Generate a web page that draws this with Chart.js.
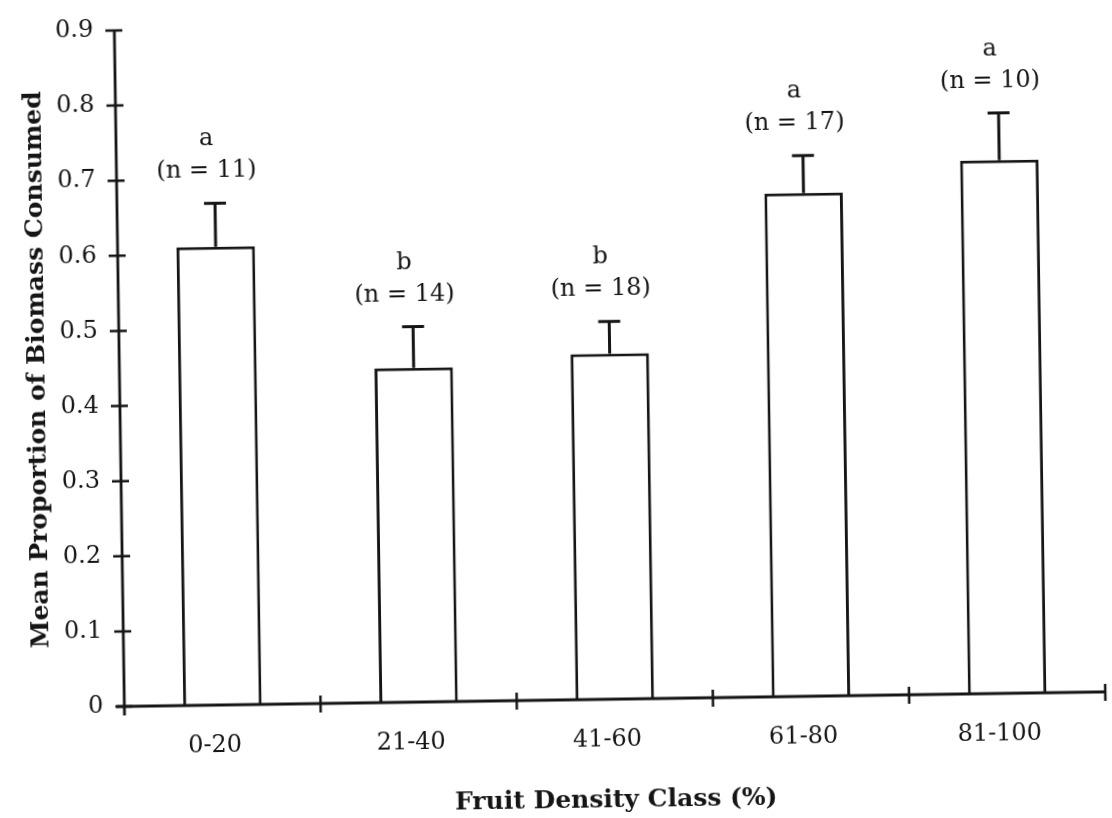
<!DOCTYPE html>
<html>
<head>
<meta charset="utf-8">
<script src="https://cdn.jsdelivr.net/npm/chart.js@4/dist/chart.umd.min.js"></script>
<style>
  html, body { margin: 0; padding: 0; background: #ffffff; overflow: hidden; }
  #wrap { width: 1112px; height: 818px; transform: rotate(-0.85deg); transform-origin: 556px 409px; }
  canvas { display: block; }
</style>
</head>
<body>
<div id="wrap"><canvas id="chart" width="1112" height="818"></canvas></div>
<script>
// Fruit density classes and mean proportion of biomass consumed
const categories = ['0-20', '21-40', '41-60', '61-80', '81-100'];
const meanConsumed = [0.61, 0.445, 0.46, 0.67, 0.71];
const upperError = [0.668, 0.50, 0.503, 0.72, 0.773];
const groupLetters = ['a', 'b', 'b', 'a', 'a'];
const sampleSizes = [11, 14, 18, 17, 10];
const yTicks = [0, 0.1, 0.2, 0.3, 0.4, 0.5, 0.6, 0.7, 0.8, 0.9];
const yTickLabels = ['0', '0.1', '0.2', '0.3', '0.4', '0.5', '0.6', '0.7', '0.8', '0.9'];

const INK = '#151515';
const SERIF = "'DejaVu Serif', 'Liberation Serif', serif";

// Axis lines with tick marks that cross the line on both sides
const axisFrame = {
  id: 'axisFrame',
  afterDatasetsDraw(chart) {
    const { ctx, chartArea: a, scales: { x, y } } = chart;
    ctx.save();
    ctx.strokeStyle = INK;
    ctx.lineWidth = 2.8;
    ctx.lineCap = 'butt';
    ctx.beginPath();
    ctx.moveTo(a.left, a.top);
    ctx.lineTo(a.left, a.bottom + 9);
    ctx.moveTo(a.left - 8, a.bottom);
    ctx.lineTo(a.right, a.bottom);
    ctx.stroke();
    ctx.lineWidth = 2.5;
    ctx.beginPath();
    yTicks.forEach(v => {
      const py = y.getPixelForValue(v);
      ctx.moveTo(a.left - 9, py);
      ctx.lineTo(a.left + 8, py);
    });
    for (let i = 1; i <= categories.length; i++) {
      const px = x.getPixelForValue(i - 0.5);
      ctx.moveTo(px, a.bottom - 8);
      ctx.lineTo(px, a.bottom + 9);
    }
    ctx.stroke();
    ctx.restore();
  }
};

// Upper error whiskers plus group letter and sample size above each bar
const whiskers = {
  id: 'whiskers',
  afterDatasetsDraw(chart) {
    const { ctx, scales: { y } } = chart;
    const bars = chart.getDatasetMeta(0).data;
    ctx.save();
    ctx.strokeStyle = INK;
    ctx.fillStyle = INK;
    ctx.lineWidth = 3;
    ctx.font = '24px ' + SERIF;
    ctx.textAlign = 'center';
    ctx.textBaseline = 'middle';
    bars.forEach((bar, i) => {
      const top = y.getPixelForValue(meanConsumed[i]);
      const err = y.getPixelForValue(upperError[i]);
      ctx.beginPath();
      ctx.moveTo(bar.x, top);
      ctx.lineTo(bar.x, err);
      ctx.moveTo(bar.x - 11, err);
      ctx.lineTo(bar.x + 11, err);
      ctx.stroke();
      ctx.fillText('(n = ' + sampleSizes[i] + ')', bar.x - 8, err - 32);
      ctx.fillText(groupLetters[i], bar.x - 8, err - 64);
    });
    ctx.restore();
  }
};

new Chart(document.getElementById('chart'), {
  type: 'bar',
  data: {
    labels: categories,
    datasets: [{
      data: meanConsumed,
      backgroundColor: '#ffffff',
      borderColor: INK,
      borderWidth: 3,
      barPercentage: 0.4,
      categoryPercentage: 1.0
    }]
  },
  options: {
    responsive: false,
    animation: false,
    devicePixelRatio: 1,
    layout: { padding: { top: 24, right: 11, bottom: 0, left: 0 } },
    plugins: { legend: { display: false }, tooltip: { enabled: false } },
    scales: {
      x: {
        offset: true,
        grid: { display: false, drawTicks: false },
        border: { display: false },
        ticks: {
          font: { family: SERIF, size: 24 },
          color: INK,
          padding: 26,
          labelOffset: -8,
          maxRotation: 0
        },
        title: {
          display: true,
          text: 'Fruit Density Class (%)',
          font: { family: SERIF, size: 25, weight: 'bold' },
          color: INK,
          padding: { top: 0, bottom: 2 }
        },
        afterFit(scale) { scale.height = 118; }
      },
      y: {
        min: 0,
        max: 0.9,
        afterBuildTicks(scale) { scale.ticks = yTicks.map(v => ({ value: v })); },
        grid: { display: false, drawTicks: false },
        border: { display: false },
        ticks: {
          font: { family: SERIF, size: 24 },
          color: INK,
          padding: 21,
          callback: (v, i) => yTickLabels[i]
        },
        title: {
          display: true,
          text: 'Mean Proportion of Biomass Consumed',
          font: { family: SERIF, size: 25, weight: 'bold' },
          color: INK,
          padding: { top: 23, bottom: 0 }
        },
        afterFit(scale) {
          scale.width = 120;
          scale.paddingTop = 0;
          scale.paddingBottom = 0;
        }
      }
    }
  },
  plugins: [axisFrame, whiskers]
});
</script>
</body>
</html>
